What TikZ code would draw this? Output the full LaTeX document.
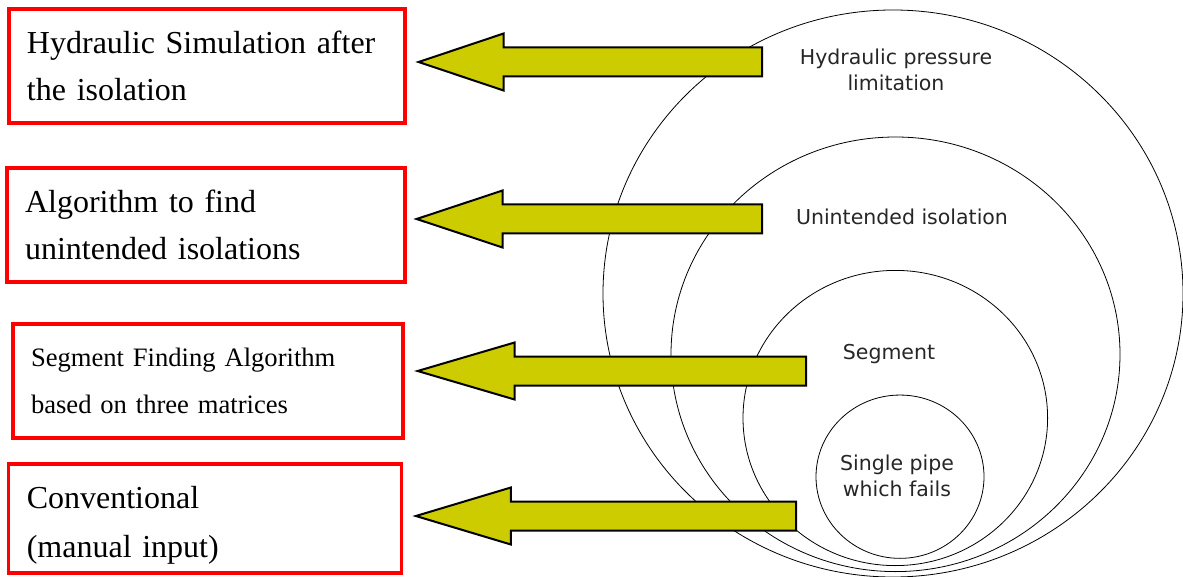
\documentclass[tikz,border=0pt]{standalone}
\usepackage{fontspec}
\setmainfont{Liberation Serif}
\newfontfamily\circlefont{DejaVu Sans}
\usetikzlibrary{shapes.geometric,calc}
\definecolor{arrowyellow}{RGB}{204,204,0}

\begin{document}
\begin{tikzpicture}[x=1pt,y=-1pt]

  \tikzstyle{every node}=[font=\fontsize{32}{47}\selectfont]

  \tikzset{box/.style={draw=red,line width=3.2pt,rectangle,inner xsep=18pt,
      align=left,minimum height=114pt},
    ring/.style={draw,line width=0.8pt,ellipse,inner sep=0pt},
    ringtext/.style={font=\circlefont\fontsize{20.5}{25.5}\selectfont,
      text=black!85,align=center},
    fatarrow/.style={fill=arrowyellow,draw=black,line width=2pt,line join=miter}}

  \useasboundingbox (0,0) rectangle (1183,577);
  \clip (0,0) rectangle (1183,577);

  % Nested circles
  \node[ring,minimum width=580pt,minimum height=567pt] (Pressure limitation) at (893,293.5) {};
  \node[ring,minimum width=449pt,minimum height=434.6pt] (Unintended isolation) at (895.5,354.3) {};
  \node[ring,minimum width=304.6pt,minimum height=295.2pt] (Segment) at (895.3,418) {};
  \node[ring,minimum width=168pt,minimum height=163.3pt] (Single pipe) at (900,476.7) {};

  % Texts inside the circles
  \node[ringtext] (Pressure label) at (896,70) {Hydraulic pressure\\limitation};
  \node[ringtext] (Isolation label) at (902,217) {Unintended isolation};
  \node[ringtext] (Segment label) at (889,353.6) {Segment};
  \node[ringtext] (Pipe label) at (897,476) {Single pipe\\which fails};

  % Boxes
  \node[box,text width=360pt] (Hydraulic simulation) at (207,66)
    {Hydraulic Simulation after\\the isolation};
  \node[box,text width=362pt] (Isolation algorithm) at (206,225)
    {Algorithm to find\\unintended isolations};
  \node[box,text width=354pt,font=\fontsize{26.6}{47}\selectfont] (Segment algorithm) at (208,381)
    {Segment Finding Algorithm\\based on three matrices};
  \node[box,text width=357pt,minimum height=109pt,text height=36pt,
    font=\fontsize{32}{49}\selectfont] (Conventional) at (205.3,518.5)
    {Conventional\\(manual input)};

  % Arrows, from the circles back to the boxes
  \coordinate (tip 1) at ($(Hydraulic simulation.east)+(12,-4)$);
  \coordinate (tail 1) at (762,62);
  \filldraw[fatarrow] (tip 1) -- ++(85,-28.5) -- ++(0,14) -- ($(tail 1)+(0,-14.5)$)
    -- ($(tail 1)+(0,14.5)$) -- ($(tip 1)+(85,14.5)$) -- ++(0,14) -- cycle;

  \coordinate (tip 2) at ($(Isolation algorithm.east)+(10,-6)$);
  \coordinate (tail 2) at (762,219);
  \filldraw[fatarrow] (tip 2) -- ++(86,-28.5) -- ++(0,14) -- ($(tail 2)+(0,-14.5)$)
    -- ($(tail 2)+(0,14.5)$) -- ($(tip 2)+(86,14.5)$) -- ++(0,14) -- cycle;

  \coordinate (tip 3) at ($(Segment algorithm.east)+(13,-10)$);
  \coordinate (tail 3) at (806,371);
  \filldraw[fatarrow] (tip 3) -- ++(97,-28.5) -- ++(0,14) -- ($(tail 3)+(0,-14.5)$)
    -- ($(tail 3)+(0,14.5)$) -- ($(tip 3)+(97,14.5)$) -- ++(0,14) -- cycle;

  \coordinate (tip 4) at ($(Conventional.east)+(12.5,-2.5)$);
  \coordinate (tail 4) at (796,516);
  \filldraw[fatarrow] (tip 4) -- ++(95,-28.5) -- ++(0,14) -- ($(tail 4)+(0,-14.5)$)
    -- ($(tail 4)+(0,14.5)$) -- ($(tip 4)+(95,14.5)$) -- ++(0,14) -- cycle;

\end{tikzpicture}
\end{document}
